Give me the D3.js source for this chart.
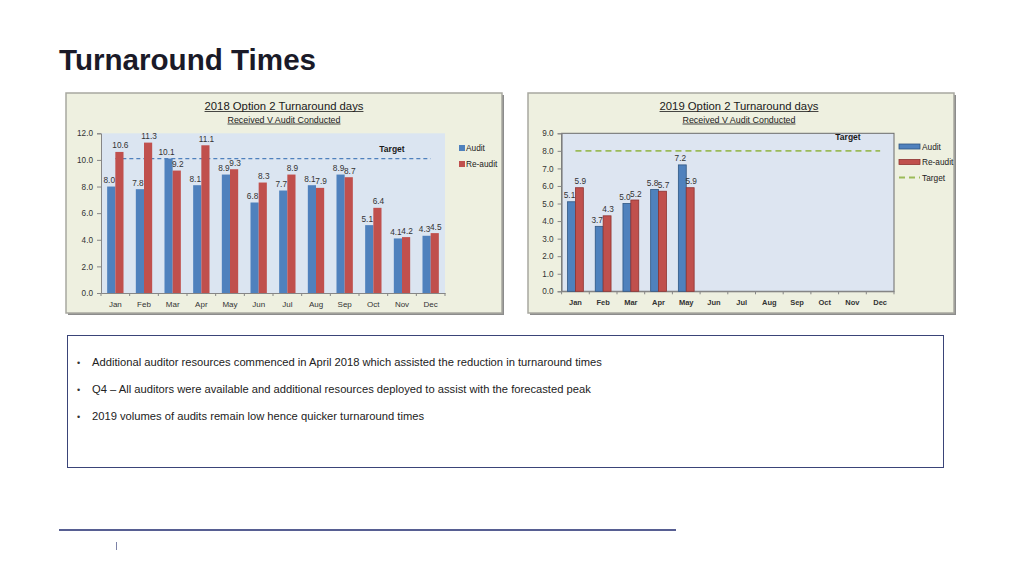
<!DOCTYPE html>
<html>
<head>
<meta charset="utf-8">
<script src="https://cdn.jsdelivr.net/npm/d3@7"></script>
<style>
  html, body { margin: 0; padding: 0; background: #ffffff; }
  svg { display: block; font-family: "Liberation Sans", Arial, sans-serif; }
</style>
</head>
<body>
<svg id="page" width="1024" height="576"></svg>
<script>
// ---------- DATA ----------
const months = ["Jan","Feb","Mar","Apr","May","Jun","Jul","Aug","Sep","Oct","Nov","Dec"];
const seriesNames = ["Audit","Re-audit"];

const audit2018   = [8.0, 7.8, 10.1, 8.1, 8.9, 6.8, 7.7, 8.1, 8.9, 5.1, 4.1, 4.3];
const reaudit2018 = [10.6, 11.3, 9.2, 11.1, 9.3, 8.3, 8.9, 7.9, 8.7, 6.4, 4.2, 4.5];
const target2018  = 10.1;
const yTicks2018  = [0, 2, 4, 6, 8, 10, 12];

const audit2019   = [5.1, 3.7, 5.0, 5.8, 7.2, null, null, null, null, null, null, null];
const reaudit2019 = [5.9, 4.3, 5.2, 5.7, 5.9, null, null, null, null, null, null, null];
const target2019  = 8.0;
const yTicks2019  = [0, 1, 2, 3, 4, 5, 6, 7, 8, 9];

const pageTitle = "Turnaround Times";
const chartTitle2018 = "2018 Option 2 Turnaround days";
const chartTitle2019 = "2019 Option 2 Turnaround days";
const chartSubtitle = "Received V Audit Conducted";
const bullets = [
  "Additional auditor resources commenced in April 2018 which assisted the reduction in turnaround times",
  "Q4 \u2013 All auditors were available and additional resources deployed to assist with the forecasted peak",
  "2019 volumes of audits remain low hence quicker turnaround times"
];

// ---------- DRAW ----------
const svg = d3.select("#page");
const fmt = d3.format(".1f");
const BLUE = "#4f81bd", RED = "#c0504d";

svg.append("text").attr("x", 59).attr("y", 69.5)
  .attr("font-size", 29.6).attr("font-weight", "bold").attr("fill", "#1a1a28")
  .text(pageTitle);

function underlinedText(g, x, y, size, txt) {
  const t = g.append("text").attr("x", x).attr("y", y).attr("text-anchor", "middle")
    .attr("font-size", size).attr("fill", "#1a1a1a").text(txt);
  const w = t.node().getComputedTextLength();
  g.append("line").attr("x1", x - w / 2).attr("x2", x + w / 2)
    .attr("y1", y + 1.5).attr("y2", y + 1.5).attr("stroke", "#1a1a1a").attr("stroke-width", 0.8);
}

function drawChart(o) {
  const g = svg.append("g");
  // frame shadow + frame
  g.append("rect").attr("x", o.frame[0] + 2).attr("y", o.frame[1] + 2)
    .attr("width", o.frame[2]).attr("height", o.frame[3]).attr("fill", "#8c8c8c");
  g.append("rect").attr("x", o.frame[0]).attr("y", o.frame[1])
    .attr("width", o.frame[2]).attr("height", o.frame[3])
    .attr("fill", "#eef0e0").attr("stroke", "#a8a8a0").attr("stroke-width", 1.5);

  const x = d3.scaleBand().domain(months).range([o.plot[0], o.plot[1]])
    .paddingInner(0.43).paddingOuter(0.215);
  const x1 = d3.scaleBand().domain(seriesNames).range([0, x.bandwidth()]);
  const y = d3.scaleLinear().domain([0, o.yMax]).range([o.plot[3], o.plot[2]]);

  // plot area
  g.append("rect").attr("x", o.plot[0]).attr("y", o.plot[2])
    .attr("width", o.plot[1] - o.plot[0]).attr("height", o.plot[3] - o.plot[2])
    .attr("fill", o.plotFill)
    .attr("stroke", o.plotBorder ? "#6b6b6b" : "none").attr("stroke-width", 1);

  // y axis
  const ya = g.append("g").attr("transform", `translate(${o.plot[0]},0)`)
    .call(d3.axisLeft(y).tickValues(o.yTicks).tickFormat(fmt).tickSize(4).tickPadding(4));
  ya.selectAll("path,line").attr("stroke", "#868686");
  ya.selectAll("text").attr("font-size", 8.2).attr("fill", "#333")
    .attr("font-family", "Liberation Sans, Arial, sans-serif");

  // x axis (labels) + tick marks between categories
  const xa = g.append("g").attr("transform", `translate(0,${o.plot[3]})`)
    .call(d3.axisBottom(x).tickSize(0).tickPadding(o.xLabelPad));
  xa.select("path").attr("stroke", "#868686");
  xa.selectAll("text").attr("font-size", o.xLabelSize).attr("fill", "#333")
    .attr("font-weight", o.xLabelBold ? "bold" : "normal")
    .attr("font-family", "Liberation Sans, Arial, sans-serif");
  const step = x.step();
  const bounds = months.map(m => x(m) + x.bandwidth() / 2 - step / 2).concat([o.plot[1]]);
  g.selectAll(".xt").data(bounds).join("line")
    .attr("x1", d => d).attr("x2", d => d)
    .attr("y1", o.plot[3]).attr("y2", o.plot[3] + 3)
    .attr("stroke", "#868686");

  // target line
  g.append("line")
    .attr("x1", x(months[0]) + x.bandwidth() / 2)
    .attr("x2", x(months[months.length - 1]) + x.bandwidth() / 2)
    .attr("y1", y(o.target)).attr("y2", y(o.target))
    .attr("stroke", o.targetColor).attr("stroke-width", o.targetWidth)
    .attr("stroke-dasharray", o.targetDash);
  g.append("text").attr("x", o.targetLabel[0]).attr("y", o.targetLabel[1])
    .attr("text-anchor", "middle").attr("font-size", 8.5).attr("font-weight", "bold")
    .attr("fill", "#1a1a1a").text("Target");

  // bars
  const series = [
    { name: "Audit", vals: o.audit, color: BLUE, edge: "#2f5683", dx: -2 },
    { name: "Re-audit", vals: o.reaudit, color: RED, edge: "#8e3331", dx: 1 }
  ];
  series.forEach(s => {
    const d = months.map((m, i) => ({ m, v: s.vals[i] })).filter(e => e.v !== null);
    g.selectAll(null).data(d).join("rect")
      .attr("x", e => x(e.m) + x1(s.name))
      .attr("y", e => y(e.v))
      .attr("width", x1.bandwidth())
      .attr("height", e => y(0) - y(e.v))
      .attr("fill", s.color)
      .attr("stroke", o.barEdge ? s.edge : "none").attr("stroke-width", 0.8);
    g.selectAll(null).data(d).join("text")
      .attr("x", e => x(e.m) + x1(s.name) + x1.bandwidth() / 2 + s.dx)
      .attr("y", e => y(e.v) - 3.5)
      .attr("text-anchor", "middle").attr("font-size", 8.3).attr("fill", "#333")
      .text(e => fmt(e.v));
  });

  // titles
  underlinedText(g, o.titleX, 110, 11.3, o.title);
  underlinedText(g, o.titleX, 122.5, 8.9, chartSubtitle);

  // legend
  const lg = g.append("g");
  if (o.legendStyle === "square") {
    series.forEach((s, i) => {
      lg.append("rect").attr("x", o.legend[0]).attr("y", o.legend[1] + i * 16 - 3)
        .attr("width", 6).attr("height", 6).attr("fill", s.color);
      lg.append("text").attr("x", o.legend[0] + 7).attr("y", o.legend[1] + i * 16 + 3)
        .attr("font-size", 8.3).attr("fill", "#222").text(s.name);
    });
  } else {
    series.forEach((s, i) => {
      lg.append("rect").attr("x", o.legend[0]).attr("y", o.legend[1] + i * 15.5 - 2.5)
        .attr("width", 21).attr("height", 5).attr("fill", s.color)
        .attr("stroke", s.edge).attr("stroke-width", 0.8);
      lg.append("text").attr("x", o.legend[0] + 23).attr("y", o.legend[1] + i * 15.5 + 3)
        .attr("font-size", 8.3).attr("fill", "#222").text(s.name);
    });
    lg.append("line").attr("x1", o.legend[0]).attr("x2", o.legend[0] + 21)
      .attr("y1", o.legend[1] + 31).attr("y2", o.legend[1] + 31)
      .attr("stroke", o.targetColor).attr("stroke-width", o.targetWidth)
      .attr("stroke-dasharray", o.targetDash);
    lg.append("text").attr("x", o.legend[0] + 23).attr("y", o.legend[1] + 34)
      .attr("font-size", 8.3).attr("fill", "#222").text("Target");
  }
}

drawChart({
  frame: [66, 93, 436, 220],
  plot: [101, 445, 133.3, 293],
  yMax: 12, yTicks: yTicks2018,
  audit: audit2018, reaudit: reaudit2018, target: target2018,
  plotFill: "#dbe5f1", plotBorder: false, barEdge: false,
  xLabelSize: 8, xLabelBold: false, xLabelPad: 8,
  targetColor: "#4f81bd", targetWidth: 1.2, targetDash: "4,3",
  targetLabel: [392, 152],
  title: chartTitle2018, titleX: 284,
  legendStyle: "square", legend: [459, 148]
});

drawChart({
  frame: [528, 93, 426, 220],
  plot: [561.6, 894, 133.3, 291.3],
  yMax: 9, yTicks: yTicks2019,
  audit: audit2019, reaudit: reaudit2019, target: target2019,
  plotFill: "#dde5f1", plotBorder: true, barEdge: true,
  xLabelSize: 7.5, xLabelBold: true, xLabelPad: 8,
  targetColor: "#9bbb59", targetWidth: 1.8, targetDash: "6,4",
  targetLabel: [848, 140],
  title: chartTitle2019, titleX: 739,
  legendStyle: "wide", legend: [899, 146.5]
});

// text box
svg.append("rect").attr("x", 67.5).attr("y", 335.5).attr("width", 876).attr("height", 132)
  .attr("fill", "#ffffff").attr("stroke", "#3a4478").attr("stroke-width", 1);
bullets.forEach((b, i) => {
  const yy = 366 + i * 27;
  svg.append("text").attr("x", 77).attr("y", yy).attr("font-size", 9).attr("fill", "#333").text("\u2022");
  svg.append("text").attr("x", 92).attr("y", yy).attr("font-size", 11.2).attr("fill", "#222").text(b);
});

// footer
svg.append("line").attr("x1", 59).attr("x2", 676).attr("y1", 530).attr("y2", 530)
  .attr("stroke", "#1f2a6e").attr("stroke-width", 1.5);
svg.append("line").attr("x1", 116.5).attr("x2", 116.5).attr("y1", 542).attr("y2", 550)
  .attr("stroke", "#5a6290").attr("stroke-width", 0.8);
</script>
</body>
</html>
